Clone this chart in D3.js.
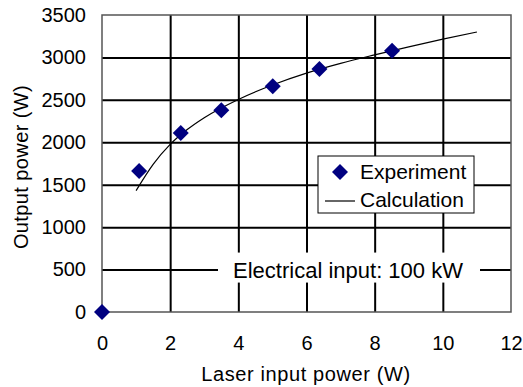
<!DOCTYPE html>
<html>
<head>
<meta charset="utf-8">
<script src="https://cdn.jsdelivr.net/npm/d3@7"></script>
<style>
  body { margin: 0; background: #fff; }
  svg { display: block; font-family: "Liberation Sans", Arial, sans-serif; }
  .grid line { stroke: #000; stroke-width: 2; }
  .grid .domain { display: none; }
  .axis text { fill: #000; font-size: 20px; }
  .axis line, .axis .domain { display: none; }
</style>
</head>
<body>
<svg id="chart" width="523" height="387"></svg>
<script>
//

const xTicks = [0, 2, 4, 6, 8, 10, 12]
const yTicks = [0, 500, 1000, 1500, 2000, 2500, 3000, 3500]

// measured points
const expX = [0, 1.09, 2.31, 3.50, 5.01, 6.38, 8.51]
const expY = [0, 1662, 2110, 2377, 2660, 2864, 3079]

// calculated curve
const calcX = [1, 1.5, 2, 2.5, 3, 4, 5, 6, 7, 8, 9, 10, 11]
const calcY = [1430, 1740, 1975, 2150, 2290, 2505, 2675, 2815, 2930, 3030, 3125, 3215, 3300]

const xLabel = 'Laser input power (W)'
const yLabel = 'Output power (W)'
const legendLabels = ['Experiment', 'Calculation']
const note = 'Electrical input: 100 kW'

//

const plot = {left: 102, right: 511, top: 15, bottom: 312}
const markColor = '#000080'

const svg = d3.select('#chart')

const x = d3.scaleLinear().domain([0, 12]).range([plot.left, plot.right])
const y = d3.scaleLinear().domain([0, 3500]).range([plot.bottom, plot.top])

// grid
svg.append('g')
  .attr('class', 'grid')
  .attr('transform', `translate(0,${plot.top})`)
  .call(d3.axisBottom(x).tickValues(xTicks.slice(1, -1)).tickSize(plot.bottom - plot.top).tickFormat(''))

svg.append('g')
  .attr('class', 'grid')
  .attr('transform', `translate(${plot.left},0)`)
  .call(d3.axisRight(y).tickValues(yTicks.slice(1, -1)).tickSize(plot.right - plot.left).tickFormat(''))

// frame
svg.append('rect')
  .attr('x', plot.left)
  .attr('y', plot.top)
  .attr('width', plot.right - plot.left)
  .attr('height', plot.bottom - plot.top)
  .attr('fill', 'none')
  .attr('stroke', '#555')
  .attr('stroke-width', 1.5)

// tick labels
svg.append('g')
  .attr('class', 'axis')
  .attr('transform', `translate(${plot.left - 16},0)`)
  .call(d3.axisLeft(y).tickValues(yTicks).tickSize(0).tickPadding(0).tickFormat(d3.format('d')))

svg.append('g')
  .attr('class', 'axis')
  .attr('transform', `translate(0,${plot.bottom + 24})`)
  .call(d3.axisBottom(x).tickValues(xTicks).tickSize(0).tickPadding(0).tickFormat(d3.format('d')))

// axis titles
svg.append('text')
  .attr('x', 306)
  .attr('y', 381)
  .attr('text-anchor', 'middle')
  .attr('font-size', 20)
  .attr('letter-spacing', 0.6)
  .text(xLabel)

svg.append('text')
  .attr('transform', `translate(28,${167}) rotate(-90)`)
  .attr('text-anchor', 'middle')
  .attr('font-size', 20)
  .attr('letter-spacing', 0.4)
  .text(yLabel)

// note box
const noteG = svg.append('g')
noteG.append('rect')
  .attr('x', 218)
  .attr('y', y(500) - 17)
  .attr('width', 262)
  .attr('height', 30)
  .attr('fill', '#fff')
noteG.append('text')
  .attr('x', 348)
  .attr('y', y(500) + 8)
  .attr('text-anchor', 'middle')
  .attr('font-size', 22)
  .text(note)

// calculation line
svg.append('path')
  .datum(calcX.map((d, i) => [d, calcY[i]]))
  .attr('fill', 'none')
  .attr('stroke', '#000')
  .attr('stroke-width', 1.2)
  .attr('d', d3.line().x((d) => x(d[0])).y((d) => y(d[1])).curve(d3.curveMonotoneX))

// experiment markers
const diamond = d3.symbol().type(d3.symbolSquare).size(128)
svg.selectAll('.exp')
  .data(expX.map((d, i) => [d, expY[i]]))
  .enter()
  .append('path')
  .attr('class', 'exp')
  .attr('fill', markColor)
  .attr('d', diamond)
  .attr('transform', (d) => `translate(${x(d[0])},${y(d[1])}) rotate(45)`)

// legend
const legend = svg.append('g').attr('transform', 'translate(318,156)')
legend.append('rect')
  .attr('width', 156)
  .attr('height', 57)
  .attr('fill', '#fff')
  .attr('stroke', '#000')
  .attr('stroke-width', 1)
legend.append('path')
  .attr('fill', markColor)
  .attr('d', diamond)
  .attr('transform', 'translate(22,16) rotate(45)')
legend.append('line')
  .attr('x1', 7).attr('x2', 37)
  .attr('y1', 45).attr('y2', 45)
  .attr('stroke', '#000')
  .attr('stroke-width', 1.2)
legend.selectAll('.lab')
  .data(legendLabels)
  .enter()
  .append('text')
  .attr('class', 'lab')
  .attr('x', 42)
  .attr('y', (d, i) => 23 + i * 28)
  .attr('font-size', 21)
  .text((d) => d)
</script>
</body>
</html>
